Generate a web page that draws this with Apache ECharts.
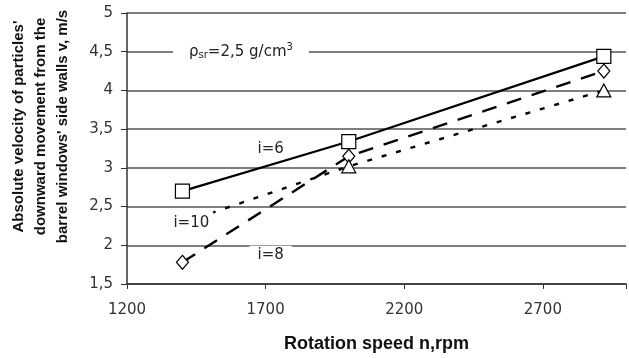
<!DOCTYPE html>
<html>
<head>
<meta charset="utf-8">
<script src="https://cdn.jsdelivr.net/npm/echarts@6/dist/echarts.min.js"></script>
<style>
  html, body { margin: 0; padding: 0; background: #fff; }
  #chart { width: 629px; height: 358px; }
</style>
</head>
<body>
<div id="chart"></div>
<script>
// rotation speed, rpm
const speeds = [1400, 2000, 2920];
const velocityI6 = [2.7, 3.34, 4.44];
const velocityI8 = [1.78, 3.15, 4.25];
const velocityI10 = [2.29, 3.02, 4.0];

const xTicks = [1200, 1700, 2200, 2700];
const yTicks = [1.5, 2, 2.5, 3, 3.5, 4, 4.5, 5];

// annotation anchors in data space
const noteDensity = [1611, 4.5];
const noteI6 = [1718, 3.24];
const noteI10 = [1432, 2.29];
const noteI8 = [1718, 1.87];

const FONT = "Liberation Sans, Arial, sans-serif";
const TICK_FONT = "DejaVu Sans, sans-serif";

function pairs(values) {
  return speeds.map((s, i) => [s, values[i]]);
}

function note(coord, text, extra = {}) {
  return {
    coord,
    symbol: "circle",
    symbolSize: 1,
    itemStyle: { color: "transparent", borderWidth: 0 },
    label: Object.assign(
      {
        show: true,
        position: "inside",
        formatter: text,
        color: "#222",
        fontFamily: TICK_FONT,
        fontSize: 15,
        backgroundColor: "#fff",
        padding: [1, 3],
      },
      extra
    ),
  };
}

const chart = echarts.init(document.getElementById("chart"));

const baseLine = {
  type: "line",
  symbolSize: 13,
  itemStyle: { color: "#fff", borderColor: "#000", borderWidth: 1.2 },
  z: 3,
};

chart.setOption({
  animation: false,
  grid: { left: 125, top: 13, right: 0, bottom: 71 },
  xAxis: {
    type: "value",
    min: xTicks[0],
    max: 3000,
    interval: 500,
    name: "Rotation speed n,rpm",
    nameLocation: "middle",
    nameGap: 51,
    nameTextStyle: {
      fontFamily: FONT,
      fontWeight: "bold",
      fontSize: 18,
      color: "#111",
    },
    axisLine: { lineStyle: { color: "#333", width: 1.5 } },
    axisTick: { show: true, length: 5, lineStyle: { color: "#333" } },
    axisLabel: {
      fontFamily: TICK_FONT,
      fontSize: 15,
      color: "#333",
      margin: 19,
      formatter: (v) => (xTicks.includes(v) ? String(v) : ""),
    },
    splitLine: { show: false },
  },
  yAxis: {
    type: "value",
    min: yTicks[0],
    max: yTicks[yTicks.length - 1],
    interval: 0.5,
    name: "Absolute velocity of particles'\ndownward movement from the\nbarrel windows' side walls v, m/s",
    nameLocation: "middle",
    nameRotate: 90,
    nameGap: 53,
    nameTextStyle: {
      fontFamily: FONT,
      fontWeight: "bold",
      fontSize: 15,
      lineHeight: 22,
      color: "#111",
      align: "center",
      padding: [0, 0, 0, 44],
    },
    axisLine: { show: true, lineStyle: { color: "#333", width: 1.5 } },
    axisTick: { show: true, length: 6, lineStyle: { color: "#333" } },
    axisLabel: {
      fontFamily: TICK_FONT,
      fontSize: 15,
      color: "#333",
      margin: 14,
      formatter: (v) => String(v).replace(".", ","),
    },
    splitLine: { show: true, lineStyle: { color: "#555", width: 1.5 } },
  },
  series: [
    Object.assign({}, baseLine, {
      name: "i=6",
      symbol: "rect",
      symbolSize: 14,
      data: pairs(velocityI6),
      lineStyle: { color: "#000", width: 2.2, type: "solid" },
      markPoint: {
        silent: true,
        z: 10,
        data: [
          note(noteDensity, "{r|ρ}{s|sr}{r|=2,5 g/cm}{p|3}", {
            padding: [2, 16],
            rich: {
              r: { fontFamily: TICK_FONT, fontSize: 15, color: "#222" },
              s: { fontFamily: TICK_FONT, fontSize: 10, color: "#222", padding: [8, 0, 0, 0] },
              p: { fontFamily: TICK_FONT, fontSize: 10, color: "#222", padding: [0, 0, 8, 0] },
            },
          }),
          note(noteI6, "i=6"),
        ],
      },
    }),
    Object.assign({}, baseLine, {
      name: "i=8",
      symbol: "diamond",
      symbolSize: [12, 14],
      data: pairs(velocityI8),
      lineStyle: { color: "#000", width: 2.4, type: [15, 11] },
      markPoint: {
        silent: true,
        z: 10,
        data: [note(noteI8, "i=8", { padding: [2, 8] })],
      },
    }),
    Object.assign({}, baseLine, {
      name: "i=10",
      symbol: "triangle",
      symbolSize: [14, 13],
      data: pairs(velocityI10),
      lineStyle: { color: "#000", width: 2.4, type: [5, 10] },
      markPoint: {
        silent: true,
        z: 10,
        data: [note(noteI10, "i=10", { padding: [4, 4] })],
      },
    }),
  ],
});
</script>
</body>
</html>
